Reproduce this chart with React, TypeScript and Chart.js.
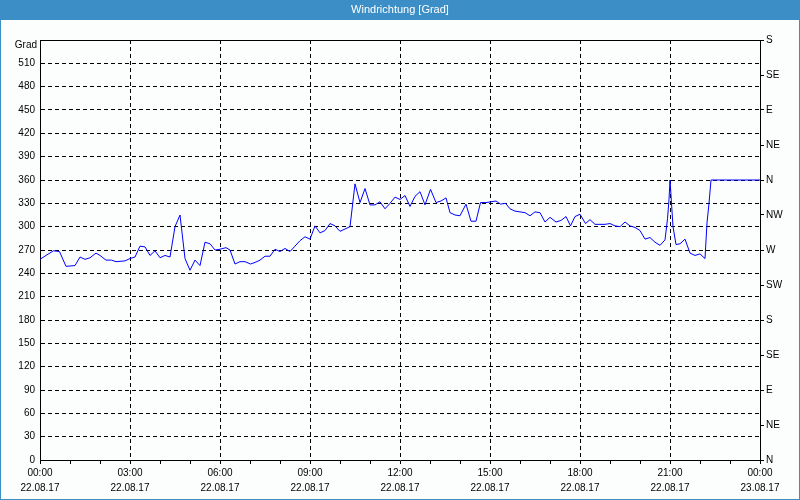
import React, { useEffect, useRef } from "react";
import { Chart, registerables } from "chart.js";

Chart.register(...registerables);

const chartTitle = "Windrichtung [Grad]";

// minutes since 22.08.17 00:00
const timesMin = [
  0, 12, 27, 39, 52, 70, 80, 90, 100, 112, 120, 132, 143, 152, 170, 180, 190, 200, 210, 220,
  230, 240, 250, 260, 270, 280, 290, 300, 310, 320, 330, 340, 350, 360, 372, 380, 390, 400, 410, 421,
  430, 440, 450, 460, 470, 480, 490, 500, 510, 520, 530, 540, 550, 560, 570, 580, 590, 600, 610, 620,
  630, 640, 650, 660, 670, 680, 690, 700, 710, 720, 730, 740, 750, 760, 770, 781, 792, 802, 812, 820,
  830, 840, 852, 862, 872, 881, 892, 902, 912, 921, 931, 940, 950, 960, 970, 980, 990, 1000, 1010, 1020,
  1032, 1042, 1052, 1061, 1070, 1080, 1091, 1100, 1110, 1120, 1130, 1140, 1150, 1160, 1170, 1180, 1190, 1200, 1210, 1220,
  1230, 1240, 1250, 1255, 1258, 1260, 1263, 1266, 1272, 1280, 1290, 1300, 1310, 1320, 1330, 1334, 1338, 1342, 1440,
];

// wind direction in degrees
const directionDeg = [
  258, 263, 269, 268, 249, 250, 261, 258, 260, 266, 263, 257, 257, 255, 256, 259, 261, 275, 274, 263,
  269, 260, 263, 261, 300, 315, 259, 244, 257, 250, 280, 278, 270, 271, 273, 270, 252, 255, 255, 252,
  254, 257, 262, 262, 271, 268, 272, 268, 275, 282, 287, 284, 301, 292, 295, 304, 301, 294, 297, 300,
  355, 331, 349, 328, 328, 332, 323, 330, 338, 335, 340, 326, 339, 345, 328, 348, 331, 333, 337, 318,
  315, 314, 329, 307, 307, 331, 331, 332, 333, 329, 330, 323, 320, 319, 318, 314, 319, 318, 306, 312,
  306, 308, 313, 301, 313, 316, 304, 309, 303, 303, 303, 304, 301, 300, 306, 301, 299, 295, 284, 286,
  280, 276, 283, 310, 335, 360, 330, 300, 277, 278, 284, 266, 263, 265, 259, 305, 330, 360, 360,
];

const timeLabels = ["00:00", "03:00", "06:00", "09:00", "12:00", "15:00", "18:00", "21:00", "00:00"];
const dateLabels = ["22.08.17", "22.08.17", "22.08.17", "22.08.17", "22.08.17", "22.08.17", "22.08.17", "22.08.17", "23.08.17"];
const compassLabels = ["N", "NE", "E", "SE", "S", "SW", "W", "NW", "N", "NE", "E", "SE", "S"];
const leftTopLabel = "Grad";

const FONT = "'Liberation Sans', Arial, sans-serif";
const BLUE = "#3c8fc6";

const framePlugin = {
  id: "frame",
  beforeDraw(chart: any) {
    const { ctx, width, height } = chart;
    ctx.save();
    ctx.fillStyle = "#fcfefd";
    ctx.fillRect(0, 0, width, height);
    ctx.fillStyle = BLUE;
    ctx.fillRect(0, 0, width, 20);
    ctx.fillStyle = "#ffffff";
    ctx.font = `11px ${FONT}`;
    ctx.textAlign = "center";
    ctx.textBaseline = "middle";
    ctx.fillText(chartTitle, width / 2, 10);
    ctx.strokeStyle = BLUE;
    ctx.lineWidth = 1;
    ctx.strokeRect(0.5, 0.5, width - 1, height - 1);
    ctx.restore();
  },
  afterDraw(chart: any) {
    const { ctx, chartArea } = chart;
    ctx.save();
    ctx.strokeStyle = "#000";
    ctx.lineWidth = 1;
    ctx.beginPath();
    ctx.moveTo(chartArea.left, Math.round(chartArea.top) + 0.5);
    ctx.lineTo(chartArea.right, Math.round(chartArea.top) + 0.5);
    ctx.stroke();
    ctx.fillStyle = "#000";
    ctx.font = `10px ${FONT}`;
    ctx.textAlign = "right";
    ctx.textBaseline = "middle";
    ctx.fillText(leftTopLabel, chartArea.left - 3, chartArea.top + 5);
    ctx.restore();
  },
};

export default function App() {
  const canvasRef = useRef<HTMLCanvasElement | null>(null);

  useEffect(() => {
    document.body.style.margin = "0";
    const canvas = canvasRef.current;
    if (!canvas) return;
    const points = timesMin.map((t, i) => ({ x: t, y: directionDeg[i] }));
    const chart = new Chart(canvas, {
      type: "line",
      data: {
        datasets: [
          {
            data: points,
            borderColor: "#0000ff",
            borderWidth: 1,
            pointRadius: 0,
            tension: 0,
            fill: false,
            xAxisID: "x",
            yAxisID: "y",
          },
        ],
      },
      options: {
        responsive: false,
        animation: false,
        devicePixelRatio: 1,
        layout: { padding: { top: 40, left: 0, right: 0, bottom: 0 } },
        plugins: {
          legend: { display: false },
          tooltip: { enabled: false },
          title: { display: false },
        },
        scales: {
          x: {
            type: "linear",
            min: 0,
            max: 1440,
            afterFit: (s: any) => {
              s.height = 40;
            },
            ticks: {
              stepSize: 60,
              autoSkip: false,
              maxRotation: 0,
              color: "#000",
              padding: 2,
              font: { family: FONT, size: 10, lineHeight: 1.5 },
              callback: (v: any) => {
                const n = Number(v);
                if (n % 180 === 0) {
                  const i = n / 180;
                  return [timeLabels[i], dateLabels[i]];
                }
                return "";
              },
            },
            grid: {
              color: (c: any) => {
                const v = c.tick ? c.tick.value : -1;
                return v % 180 === 0 && v !== 0 && v !== 1440 ? "#000" : "rgba(0,0,0,0)";
              },
              tickColor: "#000",
              tickLength: 4,
              lineWidth: 1,
            },
            border: { color: "#000", width: 1, dash: [4, 3] },
          },
          y: {
            type: "linear",
            position: "left",
            min: 0,
            max: 540,
            afterFit: (s: any) => {
              s.width = 40;
            },
            ticks: {
              stepSize: 30,
              color: "#000",
              padding: 5,
              font: { family: FONT, size: 10 },
              callback: (v: any) => (Number(v) === 540 ? "" : String(v)),
            },
            grid: {
              drawTicks: false,
              color: (c: any) => {
                const v = c.tick ? c.tick.value : -1;
                return v === 0 || v === 540 ? "rgba(0,0,0,0)" : "#000";
              },
              lineWidth: 1,
            },
            border: { color: "#000", width: 1, dash: [4, 3] },
          },
          y2: {
            type: "linear",
            position: "right",
            min: 0,
            max: 540,
            afterFit: (s: any) => {
              s.width = 40;
            },
            ticks: {
              stepSize: 45,
              color: "#000",
              padding: 2,
              font: { family: FONT, size: 10 },
              callback: (v: any) => compassLabels[Math.round(Number(v) / 45)],
            },
            grid: {
              drawOnChartArea: false,
              color: "#000",
              tickColor: "#000",
              tickLength: 4,
            },
            border: { color: "#000", width: 1 },
          },
        },
      },
      plugins: [framePlugin],
    } as any);
    return () => chart.destroy();
  }, []);

  return (
    <div style={{ position: "absolute", left: 0, top: 0, width: 800, height: 500 }}>
      <canvas ref={canvasRef} width={800} height={500} style={{ display: "block" }} />
    </div>
  );
}
